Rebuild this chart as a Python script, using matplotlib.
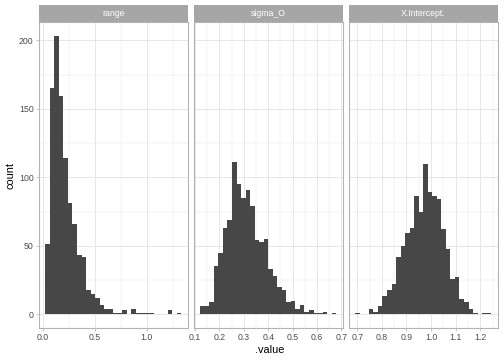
import numpy as np
import matplotlib
matplotlib.use("Agg")
import matplotlib.pyplot as plt
from matplotlib.ticker import MultipleLocator

plt.rcParams['font.family'] = ['Liberation Sans', 'DejaVu Sans']

# facet names
facets = ["range", "sigma_O", "X.Intercept."]

# data range covered by the 30 histogram bins of each facet
range_lims = (0.025, 1.330)
sigma_lims = (0.1213, 0.6787)
icept_lims = (0.692, 1.2444)

# counts per bin
range_counts = [51, 165, 203, 159, 114, 81, 66, 43, 42, 18, 15, 12, 7, 4, 4,
                1, 1, 3, 0, 4, 1, 1, 1, 1, 0, 0, 0, 3, 0, 1]
sigma_counts = [6, 6, 9, 35, 45, 63, 69, 111, 95, 85, 91, 79, 54, 53, 55,
                33, 28, 20, 18, 9, 10, 4, 7, 2, 3, 1, 1, 2, 0, 1]
icept_counts = [1, 0, 0, 4, 2, 6, 13, 18, 22, 42, 50, 59, 63, 86, 75,
                110, 89, 86, 84, 62, 48, 26, 27, 11, 9, 4, 1, 0, 1, 1]

# tick spacing per facet (major)
x_steps = [0.5, 0.1, 0.1]

W, H = 504, 360
fig = plt.figure(figsize=(W / 72, H / 72), dpi=72)

panel_w = 149.5
panel_left = [38.5, 193.5, 348.5]
panel_top, panel_bot = 22.3, 328.2
strip_top = 5.0

ymax = max(max(range_counts), max(sigma_counts), max(icept_counts))
ylim = (-0.05 * ymax, 1.05 * ymax)

grid_col = "#DEDEDE"
border_col = "#B3B3B3"
bar_col = "#474747"

data = [(range_lims, range_counts), (sigma_lims, sigma_counts), (icept_lims, icept_counts)]

for i, (name, (lims, counts), step) in enumerate(zip(facets, data, x_steps)):
    x0 = panel_left[i]
    ax = fig.add_axes([x0 / W, 1 - panel_bot / H, panel_w / W, (panel_bot - panel_top) / H])
    edges = np.linspace(lims[0], lims[1], len(counts) + 1)
    ax.bar(edges[:-1], counts, width=np.diff(edges), align='edge',
           color=bar_col, linewidth=0, zorder=3)
    span = lims[1] - lims[0]
    ax.set_xlim(lims[0] - 0.05 * span, lims[1] + 0.05 * span)
    ax.set_ylim(*ylim)

    ax.xaxis.set_major_locator(MultipleLocator(step))
    ax.xaxis.set_minor_locator(MultipleLocator(step / 2))
    ax.yaxis.set_major_locator(MultipleLocator(50))
    ax.yaxis.set_minor_locator(MultipleLocator(25))
    ax.grid(which='major', color=grid_col, linewidth=0.71, zorder=0)
    ax.grid(which='minor', color=grid_col, linewidth=0.36, zorder=0)
    ax.set_axisbelow(True)

    ax.xaxis.set_major_formatter(plt.FuncFormatter(lambda v, p: f"{v:.1f}"))
    ax.tick_params(which='major', length=2.75, width=0.71, color=border_col,
                   labelsize=8.8, labelcolor="#4D4D4D", pad=2.2)
    ax.tick_params(which='minor', length=0)
    if i > 0:
        ax.tick_params(axis='y', which='major', length=0, labelleft=False)
    for sp in ax.spines.values():
        sp.set_color(border_col)
        sp.set_linewidth(1.1)

    # strip
    sax = fig.add_axes([x0 / W, 1 - panel_top / H, panel_w / W, (panel_top - strip_top) / H])
    sax.set_facecolor("#A6A6A6")
    sax.set_xticks([])
    sax.set_yticks([])
    for sp in sax.spines.values():
        sp.set_visible(False)
    sax.text(0.5, 0.5, name, color="white", fontsize=8.8, ha='center', va='center',
             transform=sax.transAxes)

fig.text(270 / W, 1 - 350 / H, ".value", ha='center', va='center', fontsize=11)
fig.text(10 / W, 1 - 175 / H, "count", ha='center', va='center', fontsize=11, rotation=90)

fig.savefig("out.png", dpi=72)
